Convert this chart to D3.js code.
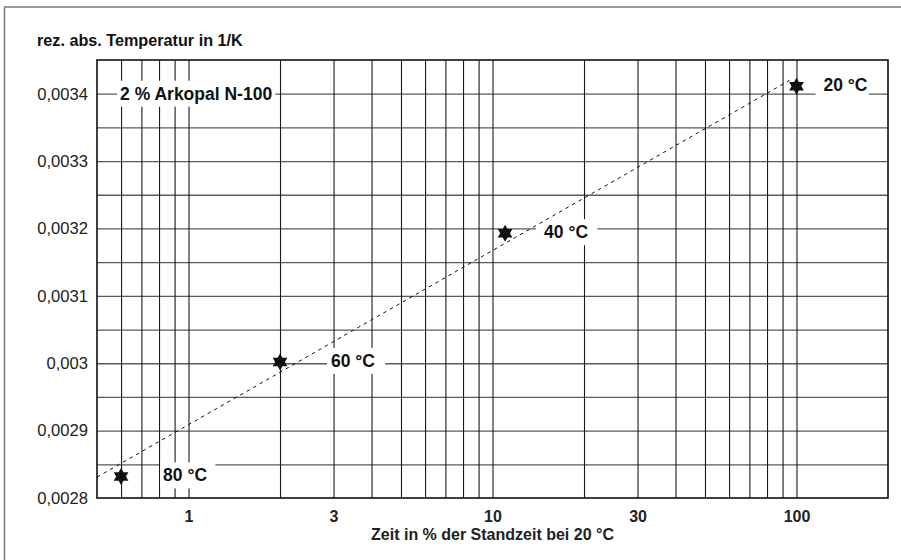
<!DOCTYPE html>
<html>
<head>
<meta charset="utf-8">
<script src="https://cdn.jsdelivr.net/npm/d3@7"></script>
<style>
  body { margin: 0; background: #fff; }
  svg { display: block; font-family: "Liberation Sans", Arial, Helvetica, sans-serif; }
</style>
</head>
<body>
<div id="chart"></div>
<script>
// data
var tempLabels = ["80 °C", "60 °C", "40 °C", "20 °C"];
var timePct    = [0.6, 2, 11, 100];                           // x: Zeit in %
var recipTemp  = [0.002832, 0.003002, 0.003193, 0.003411];    // y: 1/K
var fitTime    = [0.5, 95];                                   // dashed trend line
var fitRecip   = [0.002831, 0.003420];
var xTicks = [1, 3, 10, 30, 100];
var xGrid  = [0.6, 0.7, 0.8, 0.9, 1, 2, 3, 4, 5, 6, 7, 8, 9, 10,
              20, 30, 40, 50, 60, 70, 80, 90, 100];
var yTicks = [0.0028, 0.0029, 0.003, 0.0031, 0.0032, 0.0033, 0.0034];
var yGrid  = [0.00285, 0.0029, 0.00295, 0.003, 0.00305, 0.0031, 0.00315,
              0.0032, 0.00325, 0.0033, 0.00335, 0.0034];
var seriesName = "2 % Arkopal N-100";

// set the dimensions and margins of the graph
var W = 901, H = 560;
var margin = {top: 60, right: 13, bottom: 62, left: 97},
    width = W - margin.left - margin.right,
    height = H - margin.top - margin.bottom;

var svg = d3.select("#chart").append("svg")
    .attr("width", W)
    .attr("height", H);

// outer frame (only left and top edges visible)
svg.append("path")
    .attr("d", "M4.5," + H + "V7H" + W)
    .attr("fill", "none")
    .attr("stroke", "#7a7a7a")
    .attr("stroke-width", 1.5);

// y title
svg.append("text")
    .attr("x", 37)
    .attr("y", 46)
    .attr("font-size", 16.2)
    .attr("font-weight", "bold")
    .attr("fill", "#111")
    .text("rez. abs. Temperatur in 1/K");

var g = svg.append("g")
    .attr("transform", "translate(" + margin.left + "," + margin.top + ")");

var x = d3.scaleLog().domain([0.5, 200]).range([0, width]);
var y = d3.scaleLinear().domain([0.0028, 0.00345]).range([height, 0]);

// horizontal grid
g.append("g")
    .call(d3.axisLeft(y).tickValues(yGrid).tickSize(-width).tickFormat(""))
    .call(function (a) { a.select(".domain").remove(); })
    .selectAll("line")
      .attr("stroke", "#5a5a5a")
      .attr("stroke-width", 1.3);

// vertical grid
g.append("g")
    .attr("transform", "translate(0," + height + ")")
    .call(d3.axisBottom(x).tickValues(xGrid).tickSize(-height).tickFormat(""))
    .call(function (a) { a.select(".domain").remove(); })
    .selectAll("line")
      .attr("stroke", "#1a1a1a")
      .attr("stroke-width", 1.1);

// plot border
g.append("rect")
    .attr("width", width)
    .attr("height", height)
    .attr("fill", "none")
    .attr("stroke", "#111")
    .attr("stroke-width", 1.6);

// y tick labels
g.append("g")
    .call(d3.axisLeft(y).tickValues(yTicks).tickSize(0).tickPadding(9)
      .tickFormat(function (d) { return String(+d.toFixed(4)).replace(".", ","); }))
    .call(function (a) { a.select(".domain").remove(); })
    .selectAll("text")
      .attr("font-family", null)
      .attr("font-size", 16.6)
      .attr("fill", "#222");

// x tick labels
g.append("g")
    .attr("transform", "translate(0," + height + ")")
    .call(d3.axisBottom(x).tickValues(xTicks).tickSize(0).tickPadding(13)
      .tickFormat(d3.format("d")))
    .call(function (a) { a.select(".domain").remove(); })
    .selectAll("text")
      .attr("font-family", null)
      .attr("font-size", 16)
      .attr("font-weight", "bold")
      .attr("fill", "#222");

// x title
g.append("text")
    .attr("x", width / 2)
    .attr("y", height + 42)
    .attr("text-anchor", "middle")
    .attr("font-size", 16)
    .attr("font-weight", "bold")
    .attr("fill", "#222")
    .text("Zeit in % der Standzeit bei 20 °C");

// label with white box behind it, cutting the grid
function boxedLabel(px, py, txt, padL, padR) {
  var lg = g.append("g");
  var box = lg.append("rect").attr("fill", "#fff");
  var t = lg.append("text")
      .attr("x", px)
      .attr("y", py + 6)
      .attr("font-size", 17.5)
      .attr("font-weight", "bold")
      .attr("fill", "#111")
      .text(txt);
  var bb = t.node().getBBox();
  box.attr("x", bb.x - padL)
     .attr("y", py - 13)
     .attr("width", bb.width + padL + padR)
     .attr("height", 26);
}

boxedLabel(x(0.6) - 1, y(0.0034), seriesName, 3, 3);

var labelDx = [42, 51, 39, 27];
var labelPad = [[3, 8], [4, 10], [8, 9], [8, 1]];
tempLabels.forEach(function (lab, i) {
  boxedLabel(x(timePct[i]) + labelDx[i], y(recipTemp[i]) - 1, lab, labelPad[i][0], labelPad[i][1]);
});

// dashed trend line
g.append("path")
    .datum(d3.zip(fitTime, fitRecip))
    .attr("d", d3.line().x(function (d) { return x(d[0]); }).y(function (d) { return y(d[1]); }))
    .attr("fill", "none")
    .attr("stroke", "#111")
    .attr("stroke-width", 1)
    .attr("stroke-dasharray", "3.5,4");

// six-pointed star symbol
var star6 = {
  draw: function (ctx, size) {
    var r = Math.sqrt(size), ri = r / Math.sqrt(3);
    for (var k = 0; k < 12; k++) {
      var a = -Math.PI / 2 + k * Math.PI / 6;
      var rr = (k % 2 === 0) ? r : ri;
      if (k === 0) ctx.moveTo(rr * Math.cos(a), rr * Math.sin(a));
      else ctx.lineTo(rr * Math.cos(a), rr * Math.sin(a));
    }
    ctx.closePath();
  }
};

g.selectAll(".star")
  .data(d3.zip(timePct, recipTemp))
  .enter().append("path")
    .attr("class", "star")
    .attr("transform", function (d) { return "translate(" + x(d[0]) + "," + y(d[1]) + ")"; })
    .attr("d", d3.symbol().type(star6).size(72))
    .attr("fill", "#111");
</script>
</body>
</html>
